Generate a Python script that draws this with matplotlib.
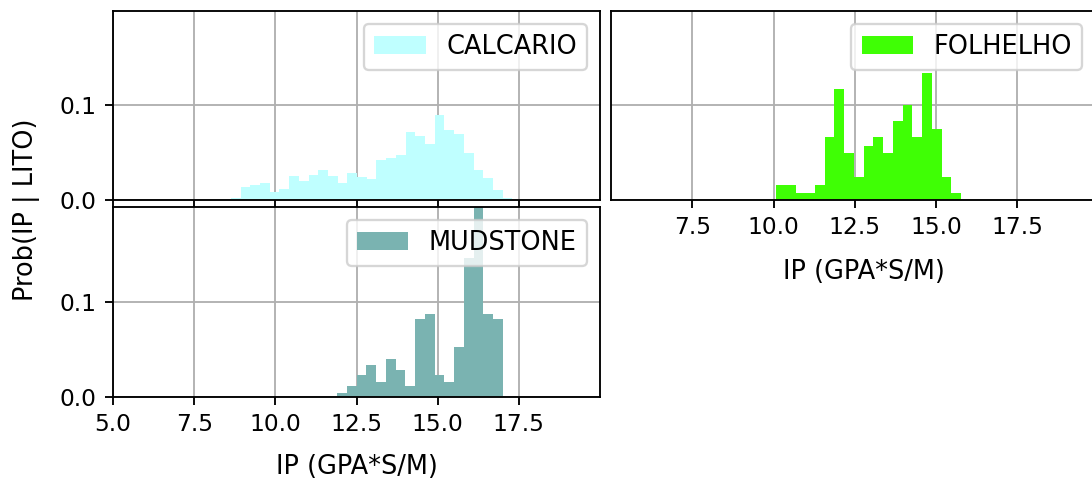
import numpy as np
import matplotlib
matplotlib.use('Agg')
import matplotlib.pyplot as plt

# Probability per bin (sum ~ 1)
calcario = [0.002, 0.014, 0.016, 0.018, 0.008, 0.012, 0.025, 0.020, 0.026, 0.032,
            0.025, 0.018, 0.028, 0.024, 0.022, 0.042, 0.044, 0.047, 0.072, 0.067,
            0.059, 0.089, 0.074, 0.070, 0.049, 0.032, 0.023, 0.011, 0.0025]
calcario_range = (8.63, 17.30)

folhelho = [0.016, 0.016, 0.007, 0.007, 0.016, 0.066, 0.117, 0.050, 0.024, 0.057,
            0.066, 0.050, 0.083, 0.100, 0.066, 0.134, 0.075, 0.024, 0.007]
folhelho_range = (10.08, 15.77)

mudstone = [0.004, 0.011, 0.023, 0.034, 0.016, 0.040, 0.028, 0.011, 0.082, 0.087,
            0.023, 0.016, 0.052, 0.146, 0.26, 0.087, 0.082]
mudstone_range = (11.90, 17.01)

xticks = [5.0, 7.5, 10.0, 12.5, 15.0, 17.5]
yticks = [0.0, 0.1]

W, H = 1092, 479
fig = plt.figure(figsize=(6.5, H / 168), dpi=168)


def box(left, top, right, bottom):
    return [left / W, 1 - bottom / H, (right - left) / W, (bottom - top) / H]


ax1 = fig.add_axes(box(113, 11, 600, 200))
ax2 = fig.add_axes(box(611, 11, 1095, 200))
ax3 = fig.add_axes(box(113, 207, 600, 397))


def draw(ax, vals, rng, color, name):
    edges = np.linspace(rng[0], rng[1], len(vals) + 1)
    ax.bar(edges[:-1], vals, width=np.diff(edges), align='edge',
           color=color, label=name, linewidth=0)
    ax.set_ylim(0, 0.199)
    ax.set_yticks(yticks)
    ax.set_yticklabels(['0.0', '0.1'])
    ax.grid(True)
    ax.set_axisbelow(True)
    ax.tick_params(labelsize=10)
    ax.legend(loc='upper right', fontsize=11)


draw(ax1, calcario, calcario_range, '#BFFFFF', 'CALCARIO')
draw(ax2, folhelho, folhelho_range, '#3FFF05', 'FOLHELHO')
draw(ax3, mudstone, mudstone_range, '#7AB3B1', 'MUDSTONE')

for ax in (ax1, ax3):
    ax.set_xlim(5.0, 20.0)
    ax.set_xticks(xticks)
ax1.tick_params(labelbottom=False)
ax3.set_xticklabels(['5.0', '7.5', '10.0', '12.5', '15.0', '17.5'])

ax2.set_xlim(5.0, 5.0 + 484 / 32.5)
ax2.set_xticks(xticks[1:])
ax2.set_xticklabels(['7.5', '10.0', '12.5', '15.0', '17.5'])
ax2.tick_params(labelleft=False, left=False)

ax2.set_xlabel('IP (GPA*S/M)', fontsize=11)
ax2.xaxis.set_label_coords((864 - 611) / 484, -0.31)
ax3.set_xlabel('IP (GPA*S/M)', fontsize=11, labelpad=7.5)

fig.text(27 / W, 1 - 210 / H, 'Prob(IP | LITO)', rotation=90,
         ha='center', va='center', fontsize=11)

fig.savefig('out.png', dpi=168)
